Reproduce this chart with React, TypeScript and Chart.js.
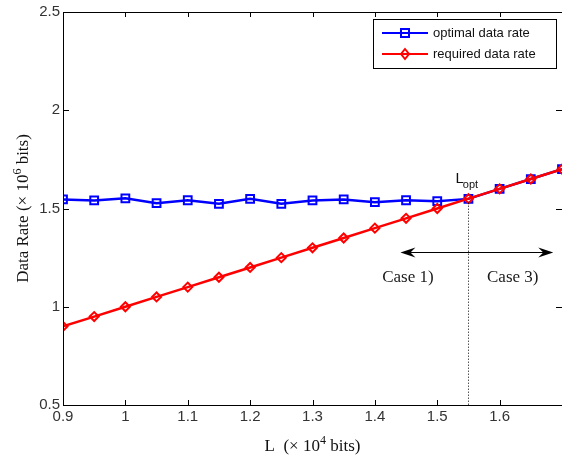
import React, { useEffect, useRef } from 'react';
import { Chart, registerables } from 'chart.js';

Chart.register(...registerables);

// ---- data ----
const L_VALUES = [0.9, 0.95, 1.0, 1.05, 1.1, 1.15, 1.2, 1.25, 1.3, 1.35, 1.4, 1.45, 1.5, 1.55, 1.6, 1.65, 1.7];
const OPTIMAL_RATE = [1.546, 1.541, 1.552, 1.527, 1.542, 1.524, 1.549, 1.524, 1.541, 1.546, 1.532, 1.542, 1.537, 1.549, 1.6, 1.65, 1.7];
const REQUIRED_RATE = [0.9, 0.95, 1.0, 1.05, 1.1, 1.15, 1.2, 1.25, 1.3, 1.35, 1.4, 1.45, 1.5, 1.55, 1.6, 1.65, 1.7];
const X_TICKS = [0.9, 1.0, 1.1, 1.2, 1.3, 1.4, 1.5, 1.6, 1.7];
const Y_TICKS = [0.5, 1, 1.5, 2, 2.5];
const SERIES_NAMES = ['optimal data rate', 'required data rate'];

// annotation anchors (data units)
const L_OPT = 1.55;
const L_OPT_RATE = 1.55;
const ARROW_FROM = 1.441;
const ARROW_TO = 1.686;
const ARROW_Y = 1.277;
const CASE_LABELS = [
  { text: 'Case 1)', x: 1.453, y: 1.15 },
  { text: 'Case 3)', x: 1.621, y: 1.15 },
];

const BLUE = '#0000ff';
const RED = '#ff0000';
const TICK_FONT = "'Liberation Sans', Arial, sans-serif";
const SERIF = "'Liberation Serif', 'Times New Roman', serif";
const SANS = "'Liberation Sans', Arial, sans-serif";

type Seg = { t: string; size: number; dy: number };

function drawRich(ctx: CanvasRenderingContext2D, segs: Seg[], cx: number, cy: number, family: string) {
  let total = 0;
  const widths = segs.map((s) => {
    ctx.font = `${s.size}px ${family}`;
    const w = ctx.measureText(s.t).width;
    total += w;
    return w;
  });
  let x = cx - total / 2;
  ctx.textBaseline = 'alphabetic';
  ctx.textAlign = 'left';
  segs.forEach((s, i) => {
    ctx.font = `${s.size}px ${family}`;
    ctx.fillText(s.t, x, cy + s.dy);
    x += widths[i];
  });
}

function arrowHead(ctx: CanvasRenderingContext2D, tipX: number, y: number, dir: number) {
  ctx.beginPath();
  ctx.moveTo(tipX, y);
  ctx.lineTo(tipX - dir * 15, y - 5);
  ctx.lineTo(tipX - dir * 10, y);
  ctx.lineTo(tipX - dir * 15, y + 5);
  ctx.closePath();
  ctx.fill();
}

const decorPlugin = {
  id: 'decor',
  afterDatasetsDraw(chart: any) {
    const { ctx, chartArea: a, scales } = chart;
    const xs = scales.x;
    const ys = scales.y;
    ctx.save();

    // dotted L_opt line
    ctx.strokeStyle = '#000';
    ctx.lineWidth = 1;
    ctx.setLineDash([1, 2]);
    const lx = Math.round(xs.getPixelForValue(L_OPT)) + 0.5;
    ctx.beginPath();
    ctx.moveTo(lx, ys.getPixelForValue(L_OPT_RATE) + 4);
    ctx.lineTo(lx, a.bottom);
    ctx.stroke();
    ctx.setLineDash([]);

    // double arrow
    const ay = Math.round(ys.getPixelForValue(ARROW_Y)) + 0.5;
    const ax1 = xs.getPixelForValue(ARROW_FROM);
    const ax2 = xs.getPixelForValue(ARROW_TO);
    ctx.lineWidth = 1.2;
    ctx.beginPath();
    ctx.moveTo(ax1 + 8, ay);
    ctx.lineTo(ax2 - 8, ay);
    ctx.stroke();
    ctx.fillStyle = '#000';
    arrowHead(ctx, ax1, ay, -1);
    arrowHead(ctx, ax2, ay, 1);

    // case labels
    ctx.fillStyle = '#1a1a1a';
    ctx.font = `17px ${SERIF}`;
    ctx.textAlign = 'center';
    ctx.textBaseline = 'middle';
    CASE_LABELS.forEach((c) => {
      ctx.fillText(c.text, xs.getPixelForValue(c.x), ys.getPixelForValue(c.y));
    });

    // L_opt label
    const ox = xs.getPixelForValue(L_OPT);
    const oy = ys.getPixelForValue(L_OPT_RATE);
    ctx.textAlign = 'left';
    ctx.textBaseline = 'alphabetic';
    ctx.font = `15px ${SANS}`;
    ctx.fillStyle = '#111';
    ctx.fillText('L', ox - 13, oy - 16);
    const lw = ctx.measureText('L').width;
    ctx.font = `11px ${SANS}`;
    ctx.fillText('opt', ox - 13 + lw - 1, oy - 11);

    // axes box
    ctx.strokeStyle = '#000';
    ctx.lineWidth = 1;
    ctx.beginPath();
    ctx.rect(Math.round(a.left) + 0.5, Math.round(a.top) + 0.5, Math.round(a.right - a.left), Math.round(a.bottom - a.top));
    ctx.stroke();

    // inward ticks
    ctx.beginPath();
    X_TICKS.forEach((v) => {
      const px = Math.round(xs.getPixelForValue(v)) + 0.5;
      ctx.moveTo(px, a.bottom);
      ctx.lineTo(px, a.bottom - 5);
      ctx.moveTo(px, a.top);
      ctx.lineTo(px, a.top + 5);
    });
    Y_TICKS.forEach((v) => {
      const py = Math.round(ys.getPixelForValue(v)) + 0.5;
      ctx.moveTo(a.left, py);
      ctx.lineTo(a.left + 6, py);
      ctx.moveTo(a.right, py);
      ctx.lineTo(a.right - 6, py);
    });
    ctx.stroke();

    // legend
    const bx = 373.5, by = 19.5, bw = 183, bh = 49;
    ctx.fillStyle = '#fff';
    ctx.fillRect(bx, by, bw, bh);
    ctx.strokeRect(bx, by, bw, bh);
    const rows = [
      { y: 33, color: BLUE, shape: 'rect' },
      { y: 54, color: RED, shape: 'diamond' },
    ];
    rows.forEach((r, i) => {
      ctx.strokeStyle = r.color;
      ctx.lineWidth = 2;
      ctx.beginPath();
      ctx.moveTo(382, r.y);
      ctx.lineTo(428, r.y);
      ctx.stroke();
      ctx.beginPath();
      if (r.shape === 'rect') {
        ctx.rect(401, r.y - 4, 8, 8);
      } else {
        ctx.moveTo(405, r.y - 5);
        ctx.lineTo(409, r.y);
        ctx.lineTo(405, r.y + 5);
        ctx.lineTo(401, r.y);
        ctx.closePath();
      }
      ctx.stroke();
      ctx.fillStyle = '#111';
      ctx.font = `13px ${SANS}`;
      ctx.textAlign = 'left';
      ctx.textBaseline = 'middle';
      ctx.fillText(SERIES_NAMES[i], 433, r.y);
    });

    // axis titles
    ctx.fillStyle = '#111';
    const cx = (a.left + a.right) / 2;
    drawRich(
      ctx,
      [
        { t: 'L  (× 10', size: 17, dy: 0 },
        { t: '4', size: 12, dy: -7 },
        { t: ' bits)', size: 17, dy: 0 },
      ],
      cx,
      451,
      SERIF
    );
    ctx.save();
    ctx.translate(28, (a.top + a.bottom) / 2);
    ctx.rotate(-Math.PI / 2);
    drawRich(
      ctx,
      [
        { t: 'Data Rate (× 10', size: 17, dy: 0 },
        { t: '6', size: 12, dy: -7 },
        { t: ' bits)', size: 17, dy: 0 },
      ],
      0,
      0,
      SERIF
    );
    ctx.restore();

    ctx.restore();
  },
};

export default function App() {
  const ref = useRef<HTMLCanvasElement>(null);

  useEffect(() => {
    if (!ref.current) return;
    const chart = new Chart(ref.current, {
      type: 'line',
      data: {
        datasets: [
          {
            label: SERIES_NAMES[0],
            data: L_VALUES.map((x, i) => ({ x, y: OPTIMAL_RATE[i] })),
            borderColor: BLUE,
            backgroundColor: 'rgba(0,0,0,0)',
            borderWidth: 2.5,
            pointStyle: 'rect',
            pointRadius: 5.5,
            pointBorderWidth: 2,
            pointBorderColor: BLUE,
            pointBackgroundColor: 'rgba(0,0,0,0)',
            tension: 0,
            order: 1,
          },
          {
            label: SERIES_NAMES[1],
            data: L_VALUES.map((x, i) => ({ x, y: REQUIRED_RATE[i] })),
            borderColor: RED,
            backgroundColor: 'rgba(0,0,0,0)',
            borderWidth: 2.5,
            pointStyle: 'rectRot',
            pointRadius: 4.5,
            pointBorderWidth: 2,
            pointBorderColor: RED,
            pointBackgroundColor: 'rgba(0,0,0,0)',
            tension: 0,
            order: 0,
          },
        ],
      },
      options: {
        responsive: false,
        animation: false,
        layout: { padding: { top: 11, right: 38, left: 0, bottom: 0 } },
        plugins: { legend: { display: false }, tooltip: { enabled: false } },
        scales: {
          x: {
            type: 'linear',
            min: 0.9,
            max: 1.7,
            grid: { display: false, drawTicks: false },
            border: { display: false },
            afterBuildTicks: (s: any) => {
              s.ticks = X_TICKS.map((v) => ({ value: v }));
            },
            afterFit: (s: any) => {
              s.height = 52;
            },
            ticks: {
              padding: 3,
              color: '#333',
              font: { family: TICK_FONT, size: 15 },
              maxRotation: 0,
              autoSkip: false,
              callback: (v: any) => (Math.abs(v - 1.7) < 1e-9 ? '' : String(Math.round(v * 10) / 10)),
            },
          },
          y: {
            type: 'linear',
            min: 0.5,
            max: 2.5,
            grid: { display: false, drawTicks: false },
            border: { display: false },
            afterBuildTicks: (s: any) => {
              s.ticks = Y_TICKS.map((v) => ({ value: v }));
            },
            afterFit: (s: any) => {
              s.width = 63;
            },
            ticks: {
              padding: 3,
              color: '#333',
              font: { family: TICK_FONT, size: 15 },
              autoSkip: false,
              callback: (v: any) => String(v),
            },
          },
        },
      },
      plugins: [decorPlugin],
    });
    return () => chart.destroy();
  }, []);

  return (
    <div style={{ position: 'fixed', left: 0, top: 0, width: 600, height: 457, background: '#fff' }}>
      <canvas ref={ref} width={600} height={457} style={{ display: 'block' }} />
    </div>
  );
}
